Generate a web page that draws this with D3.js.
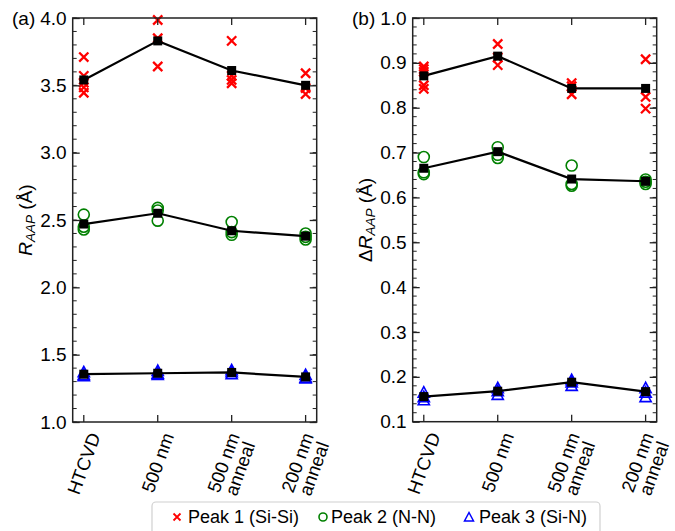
<!DOCTYPE html>
<html><head><meta charset="utf-8">
<script src="https://cdn.jsdelivr.net/npm/d3@7"></script>
<style>html,body{margin:0;padding:0;background:#fff;}svg{display:block;}</style>
</head><body>
<svg id="chart" width="675" height="531"></svg>
<script>
const categories = ["HTCVD", "500 nm", "500 nm\nanneal", "200 nm\nanneal"];

// Panel (a): R_AAP
const rPeak1 = [[3.71,3.57,3.52,3.485,3.445],[3.985,3.85,3.64],[3.83,3.57,3.54,3.515],[3.59,3.48,3.435]];
const rMean1 = [3.54,3.83,3.61,3.50];
const rPeak2 = [[2.54,2.45,2.43],[2.59,2.57,2.495],[2.485,2.41,2.39],[2.40,2.375,2.355]];
const rMean2 = [2.47,2.55,2.42,2.38];
const rPeak3 = [[1.37,1.35,1.34],[1.38,1.36,1.35],[1.385,1.37,1.355],[1.35,1.33,1.325]];
const rMean3 = [1.355,1.362,1.368,1.335];
const rTicks = [1.0,1.5,2.0,2.5,3.0,3.5,4.0];

// Panel (b): ΔR_AAP
const dPeak1 = [[0.892,0.886,0.88,0.85,0.842],[0.942,0.912,0.895],[0.855,0.848,0.83],[0.908,0.824,0.798]];
const dMean1 = [0.871,0.915,0.843,0.843];
const dPeak2 = [[0.69,0.656,0.652],[0.712,0.695,0.688],[0.671,0.63,0.626],[0.64,0.635,0.63]];
const dMean2 = [0.665,0.702,0.641,0.636];
const dPeak3 = [[0.165,0.155,0.148],[0.175,0.168,0.16],[0.193,0.188,0.18],[0.175,0.165,0.155]];
const dMean3 = [0.156,0.168,0.188,0.167];
const dTicks = [0.1,0.2,0.3,0.4,0.5,0.6,0.7,0.8,0.9,1.0];

const legendLabels = ["Peak 1 (Si-Si)", "Peak 2 (N-N)", "Peak 3 (Si-N)"];

const FONT = "'Liberation Sans', Arial, sans-serif";
const svg = d3.select("#chart");

const crossPath = "M-4.6,-4.6L4.6,4.6M-4.6,4.6L4.6,-4.6";
const triPath = "M0,-5.8L-5.6,4.6L5.6,4.6Z";

function panel(cfg) {
  const g = svg.append("g");
  const x = d3.scaleLinear().domain([-0.15, 3.15]).range([cfg.x0, cfg.x1]);
  const y = d3.scaleLinear().domain(cfg.ydom).range([cfg.y0, cfg.y1]);

  // markers
  const pts = (arr) => arr.flatMap((vals, i) => vals.map(v => ({i, v})));
  g.selectAll(".p3").data(pts(cfg.p3)).join("path")
    .attr("d", triPath).attr("transform", d => `translate(${x(d.i)},${y(d.v)})`)
    .attr("fill", "none").attr("stroke", "#0000ff").attr("stroke-width", 1.6);
  g.selectAll(".p2").data(pts(cfg.p2)).join("circle")
    .attr("cx", d => x(d.i)).attr("cy", d => y(d.v)).attr("r", 5.5)
    .attr("fill", "none").attr("stroke", "#008000").attr("stroke-width", 1.6);
  g.selectAll(".p1").data(pts(cfg.p1)).join("path")
    .attr("d", crossPath).attr("transform", d => `translate(${x(d.i)},${y(d.v)})`)
    .attr("fill", "none").attr("stroke", "#ff0000").attr("stroke-width", 2.3);

  // mean lines
  [cfg.m1, cfg.m2, cfg.m3].forEach(m => {
    g.append("path").datum(m)
      .attr("d", d3.line().x((d, i) => x(i)).y(d => y(d)))
      .attr("fill", "none").attr("stroke", "#000").attr("stroke-width", 2.2);
    g.selectAll(null).data(m).join("rect")
      .attr("x", (d, i) => x(i) - 4.5).attr("y", d => y(d) - 4.5)
      .attr("width", 9).attr("height", 9).attr("fill", "#000");
  });

  // frame
  g.append("rect").attr("x", cfg.x0).attr("y", cfg.y1)
    .attr("width", cfg.x1 - cfg.x0).attr("height", cfg.y0 - cfg.y1)
    .attr("fill", "none").attr("stroke", "#222").attr("stroke-width", 1.5);

  // y axes (left & right), inward ticks
  const minor = d3.range(cfg.ydom[0], cfg.ydom[1] + 1e-9, cfg.minorStep);
  const yl = d3.axisLeft(y).tickValues(cfg.ticks).tickFormat(d3.format(".1f")).tickSizeInner(-7).tickSizeOuter(0).tickPadding(6);
  const ylg = g.append("g").attr("transform", `translate(${cfg.x0},0)`).call(yl);
  ylg.select(".domain").remove();
  ylg.selectAll("text").attr("font-family", FONT).attr("font-size", 19).attr("fill", "#000");
  ylg.selectAll("line").attr("stroke", "#222").attr("stroke-width", 1.3);
  const yr = d3.axisRight(y).tickValues(cfg.ticks).tickFormat("").tickSizeInner(-7).tickSizeOuter(0);
  const yrg = g.append("g").attr("transform", `translate(${cfg.x1},0)`).call(yr);
  yrg.select(".domain").remove();
  yrg.selectAll("line").attr("stroke", "#222").attr("stroke-width", 1.3);
  [[cfg.x0, 1], [cfg.x1, -1]].forEach(([xx, dir]) => {
    g.selectAll(null).data(minor).join("line")
      .attr("x1", xx).attr("x2", xx + dir * 4)
      .attr("y1", d => y(d)).attr("y2", d => y(d))
      .attr("stroke", "#222").attr("stroke-width", 1);
  });

  // x ticks bottom & top
  [[cfg.y0, -1], [cfg.y1, 1]].forEach(([yy, dir]) => {
    g.selectAll(null).data(categories).join("line")
      .attr("x1", (d, i) => x(i)).attr("x2", (d, i) => x(i))
      .attr("y1", yy).attr("y2", yy + dir * 7)
      .attr("stroke", "#222").attr("stroke-width", 1.3);
  });

  // x labels rotated, centered bbox on tick
  categories.forEach((c, i) => {
    const lines = c.split("\n");
    const t = g.append("text").attr("font-family", FONT).attr("font-size", 18.5)
      .attr("text-anchor", "middle").attr("fill", "#000")
      .attr("transform", "rotate(-70)");
    lines.forEach((ln, k) => {
      t.append("tspan").attr("x", 0).attr("dy", k === 0 ? 0 : "0.95em").text(ln);
    });
    const r = t.node().getBoundingClientRect();
    const cx = (r.left + r.right) / 2;
    t.attr("transform", `translate(${x(i) - cx},${cfg.y0 + 8 - r.top}) rotate(-70)`);
  });

  // y label
  const yt = g.append("text").attr("font-family", FONT).attr("font-size", 19).attr("fill", "#000")
    .attr("text-anchor", "middle")
    .attr("transform", `translate(${cfg.ylabX},${(cfg.y0 + cfg.y1) / 2}) rotate(-90)`);
  if (cfg.delta) yt.append("tspan").text("Δ");
  yt.append("tspan").attr("font-style", "italic").text("R");
  yt.append("tspan").attr("font-style", "italic").attr("font-size", 13.5).attr("dy", 3).text("AAP");
  yt.append("tspan").attr("dy", -3).text(" (Å)");

  // panel label
  g.append("text").attr("x", cfg.labX).attr("y", 25).attr("font-family", FONT)
    .attr("font-size", 19).attr("fill", "#000").text(cfg.label);
}

panel({x0: 72.7, x1: 316.7, y0: 422, y1: 18, ydom: [1.0, 4.0], ticks: rTicks, minorStep: 0.1,
  p1: rPeak1, p2: rPeak2, p3: rPeak3, m1: rMean1, m2: rMean2, m3: rMean3,
  ylabX: 32, labX: 12, label: "(a)", delta: false});
panel({x0: 412.7, x1: 656.7, y0: 421.7, y1: 18, ydom: [0.1, 1.0], ticks: dTicks, minorStep: 0.02,
  p1: dPeak1, p2: dPeak2, p3: dPeak3, m1: dMean1, m2: dMean2, m3: dMean3,
  ylabX: 372, labX: 352, label: "(b)", delta: true});

// legend
const lg = svg.append("g");
lg.append("rect").attr("x", 152).attr("y", 502).attr("width", 448).attr("height", 45)
  .attr("rx", 4).attr("fill", "#fff").attr("stroke", "#d0d0d0").attr("stroke-width", 1.2);
const legX = [177, 323, 469];
const legTX = [188, 331, 479];
const legY = 516;
lg.append("path").attr("d", "M-3.5,-3.5L3.5,3.5M-3.5,3.5L3.5,-3.5").attr("transform", `translate(${legX[0]},${legY + 1})`)
  .attr("stroke", "#ff0000").attr("stroke-width", 1.8).attr("fill", "none");
lg.append("circle").attr("cx", legX[1]).attr("cy", legY + 1).attr("r", 4)
  .attr("stroke", "#008000").attr("stroke-width", 1.6).attr("fill", "none");
lg.append("path").attr("d", "M0,-4.5L-4.5,4L4.5,4Z").attr("transform", `translate(${legX[2]},${legY + 1})`)
  .attr("stroke", "#0000ff").attr("stroke-width", 1.5).attr("fill", "none");
lg.selectAll(null).data(legendLabels).join("text")
  .attr("x", (d, i) => legTX[i]).attr("y", legY + 7)
  .attr("font-family", FONT).attr("font-size", 18).attr("fill", "#000").text(d => d);
</script>
</body></html>
